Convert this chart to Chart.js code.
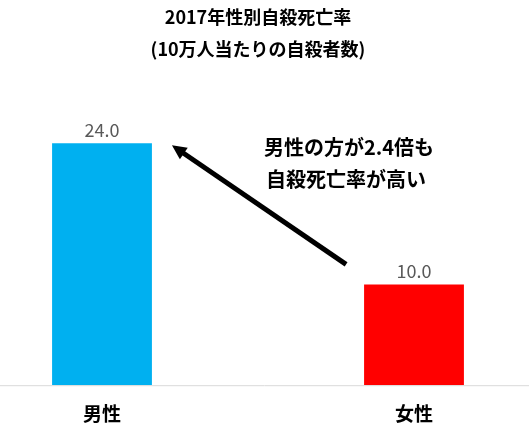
<!DOCTYPE html>
<html><head><meta charset="utf-8">
<script src="https://cdn.jsdelivr.net/npm/chart.js@4"></script>
<style>body{margin:0;background:#fff}#w{width:529px;height:442px}</style>
</head><body><div id="w"><canvas id="c"></canvas></div>
<script>
const titleLines = ['2017年性別自殺死亡率', '(10万人当たりの自殺者数)'];
const categories = ['男性', '', '女性'];
const values = [24.0, null, 10.0];
const barColors = ['#00B0F0', '#00B0F0', '#FF0000'];
const noteLines = ['男性の方が2.4倍も', '自殺死亡率が高い'];
const FONT = '"Noto Sans CJK JP", sans-serif';

const extras = {
  id: 'extras',
  afterDatasetsDraw(chart) {
    const ctx = chart.ctx, y = chart.scales.y, meta = chart.getDatasetMeta(0);
    const b0 = meta.data[0], b2 = meta.data[2];
    ctx.save();
    ctx.strokeStyle = '#d9d9d9'; ctx.lineWidth = 1;
    ctx.beginPath(); ctx.moveTo(0, y.getPixelForValue(0) + 0.5); ctx.lineTo(chart.width, y.getPixelForValue(0) + 0.5); ctx.stroke();
    ctx.fillStyle = '#595959'; ctx.font = '18px ' + FONT; ctx.textAlign = 'center'; ctx.textBaseline = 'bottom';
    [0, 2].forEach(i => { const el = meta.data[i]; ctx.fillText(values[i].toFixed(1), el.x, el.y - 4); });
    const x1 = b2.x - b2.width / 2 - 18, y1 = y.getPixelForValue(values[2]) - 20;
    const x2 = b0.x + b0.width / 2 + 20, y2 = y.getPixelForValue(values[0]) + 2;
    const ang = Math.atan2(y2 - y1, x2 - x1), h = 16;
    ctx.strokeStyle = '#000'; ctx.fillStyle = '#000'; ctx.lineWidth = 5;
    ctx.beginPath(); ctx.moveTo(x1, y1); ctx.lineTo(x2 - Math.cos(ang) * h * 0.8, y2 - Math.sin(ang) * h * 0.8); ctx.stroke();
    ctx.beginPath(); ctx.moveTo(x2, y2);
    ctx.lineTo(x2 - h * Math.cos(ang - 0.45), y2 - h * Math.sin(ang - 0.45));
    ctx.lineTo(x2 - h * Math.cos(ang + 0.45), y2 - h * Math.sin(ang + 0.45));
    ctx.closePath(); ctx.fill();
    ctx.font = 'bold 20px ' + FONT; ctx.textBaseline = 'middle'; ctx.textAlign = 'center';
    const nx = (x1 + x2) / 2 + 90, ny = y.getPixelForValue(values[0]);
    ctx.fillText(noteLines[0], nx, ny + 4);
    ctx.fillText(noteLines[1], nx - 3, ny + 36);
    ctx.restore();
  }
};

new Chart(document.getElementById('c'), {
  type: 'bar',
  data: { labels: categories, datasets: [{ data: values, backgroundColor: barColors, barPercentage: 0.64, categoryPercentage: 1 }] },
  options: {
    responsive: true, maintainAspectRatio: false, animation: false,
    layout: { padding: { left: 24, right: 37, top: 0, bottom: 0 } },
    plugins: {
      legend: { display: false }, tooltip: { enabled: false },
      title: { display: true, text: titleLines, color: '#000', font: { family: FONT, size: 18, weight: 'bold', lineHeight: 1.8 }, padding: { top: 1, bottom: 17 } }
    },
    scales: {
      x: { grid: { display: false, drawTicks: false }, border: { display: false },
           ticks: { color: '#000', padding: 17, font: { family: FONT, size: 19, weight: 'bold' } } },
      y: { display: false, min: 0, max: 30 }
    }
  },
  plugins: [extras]
});
</script></body></html>
